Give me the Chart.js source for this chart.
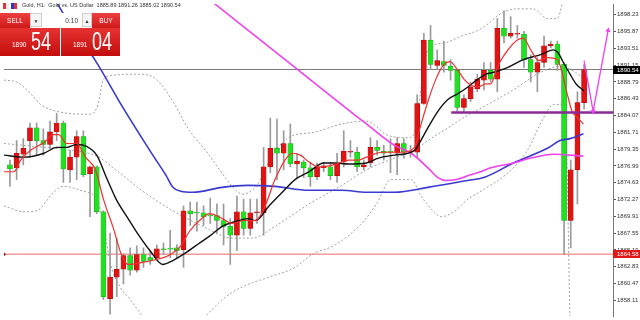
<!DOCTYPE html>
<html>
<head>
<meta charset="utf-8">
<script src="https://cdn.jsdelivr.net/npm/chart.js@4.4.1/dist/chart.umd.min.js"></script>
<style>
  html, body { margin:0; padding:0; background:#fff; }
  #wrap { position:relative; width:640px; height:320px; overflow:hidden; font-family: Arial, "Liberation Sans", sans-serif; }
  #c { position:absolute; left:0; top:0; }
  .hdr { position:absolute; left:22px; top:2px; font-size:5.5px; color:#333; white-space:nowrap; }
  .ico { position:absolute; top:3px; width:6px; height:6px; }
  .btn { position:absolute; top:13px; height:15px; line-height:15px; color:#fff; font-size:6.5px; text-align:center;
         background:linear-gradient(#ec4040, #d01a1a); }
  .box { position:absolute; top:13px; height:14px; line-height:14px; background:#f4f4f4; border:1px solid #cfcfcf; box-sizing:border-box;
         font-size:5px; text-align:center; color:#333; }
  .qty { position:absolute; top:13px; left:42px; width:40px; height:15px; line-height:15px; background:#fff; color:#333; font-size:6.5px;
         text-align:right; padding-right:4px; box-sizing:border-box; }
  .px { position:absolute; top:28px; height:28px; color:#fff; background:linear-gradient(#e63232, #c40e0e); }
  .px .s { position:absolute; left:12px; top:13px; font-size:6.5px; }
  .px .b { position:absolute; left:31px; top:1px; font-size:25px; line-height:25px; transform:scaleX(0.72); transform-origin:left top; }
</style>
</head>
<body>
<div id="wrap">
  <canvas id="c" width="640" height="320"></canvas>

  <div class="ico" style="left:3px; background:linear-gradient(90deg,#d33 50%,#eee 50%);"></div>
  <div class="ico" style="left:11px; background:linear-gradient(90deg,#33c 50%,#d33 50%);"></div>
  <div class="hdr">Gold, H1:&nbsp; Gold vs. US Dollar&nbsp; 1885.89 1891.26 1885.02 1890.54</div>

  <div class="btn" style="left:0; width:30px;">SELL</div>
  <div class="box" style="left:30px; width:12px;">&#9660;</div>
  <div class="qty">0.10</div>
  <div class="box" style="left:82px; width:10px;">&#9650;</div>
  <div class="btn" style="left:92px; width:28px;">BUY</div>
  <div class="px" style="left:0; width:60px;"><span class="s">1890</span><span class="b">54</span></div>
  <div class="px" style="left:61px; width:59px;"><span class="s">1891</span><span class="b">04</span></div>
</div>

<script>
/********************
 * Gold H1 candles (prices)
 ********************/
const opens = [1877.14,1876.73,1878.64,1880.56,1882.34,1880.56,1880.01,1881.79,1883.03,1876.45,
  1878.23,1881.11,1875.90,1876.86,1870.56,1858.37,1861.38,1862.48,1864.39,1862.34,
  1864.53,1864.12,1864.12,1865.35,1865.35,1865.49,1865.22,1870.70,1870.42,1870.42,
  1870.01,1870.01,1869.33,1868.51,1867.27,1870.56,1868.23,1870.42,1870.42,1876.86,
  1879.47,1878.78,1880.15,1877.27,1877.55,1876.73,1875.49,1876.73,1876.86,1875.63,
  1877.55,1878.92,1878.92,1876.86,1877.41,1879.60,1879.05,1878.92,1878.78,1880.15,
  1878.92,1878.92,1885.77,1894.67,1891.11,1891.66,1890.97,1890.42,1885.22,1886.45,
  1887.82,1889.05,1890.42,1889.19,1896.32,1895.22,1895.49,1895.49,1891.93,1890.15,
  1891.52,1893.85,1894.12,1891.25,1869.33,1876.45,1885.89];
const highs = [1877.82,1880.56,1880.83,1883.03,1883.03,1882.21,1883.30,1884.40,1883.30,1879.19,
  1881.93,1881.93,1876.99,1877.00,1870.70,1867.55,1866.86,1864.67,1865.49,1865.77,
  1865.49,1865.08,1865.90,1866.18,1867.96,1865.90,1871.38,1871.93,1871.93,1871.38,
  1872.48,1871.66,1871.66,1869.60,1872.75,1872.34,1872.34,1872.34,1879.60,1883.71,
  1883.58,1881.93,1882.89,1878.78,1877.82,1877.55,1877.41,1877.55,1877.55,1878.78,
  1881.93,1880.56,1879.60,1877.82,1880.97,1880.56,1879.88,1880.83,1880.97,1880.83,
  1879.88,1887.00,1895.63,1896.73,1893.30,1894.53,1891.93,1890.56,1887.00,1888.78,
  1889.88,1891.52,1891.52,1897.69,1898.78,1897.96,1896.73,1895.90,1892.62,1892.21,
  1895.22,1894.53,1894.53,1891.52,1877.82,1887.41,1891.26];
const lows = [1874.12,1875.08,1877.14,1878.23,1878.51,1878.51,1879.47,1880.56,1874.67,1874.67,
  1875.08,1875.49,1869.87,1870.29,1858.23,1856.17,1858.64,1860.42,1861.66,1862.07,
  1862.75,1863.16,1863.71,1864.53,1864.12,1864.12,1862.75,1868.64,1867.82,1868.64,
  1868.92,1867.55,1865.90,1863.16,1865.08,1867.27,1867.27,1868.92,1867.27,1876.04,
  1875.08,1876.45,1876.86,1875.36,1875.36,1874.12,1875.08,1876.18,1875.08,1874.67,
  1876.86,1878.23,1876.18,1876.45,1876.86,1878.51,1877.82,1876.04,1875.77,1878.10,
  1878.23,1878.23,1885.63,1890.56,1890.56,1890.15,1889.05,1884.67,1884.67,1886.04,
  1887.41,1887.68,1888.78,1887.41,1894.26,1894.95,1894.95,1890.84,1888.78,1887.41,
  1890.84,1893.58,1890.42,1864.53,1865.49,1871.66,1885.02];
const closes = [1876.59,1878.78,1879.47,1882.34,1880.56,1880.01,1881.79,1883.03,1876.59,1878.23,
  1881.11,1875.77,1876.86,1870.56,1858.64,1861.38,1862.48,1864.39,1862.34,1864.53,
  1863.58,1863.71,1865.35,1865.22,1865.31,1865.08,1870.70,1870.29,1870.38,1869.87,
  1869.98,1869.33,1868.51,1867.27,1870.56,1868.23,1870.42,1870.45,1876.86,1879.47,
  1878.78,1880.15,1877.27,1877.68,1876.73,1875.49,1876.86,1877.00,1875.63,1877.41,
  1879.05,1878.95,1876.86,1877.14,1879.60,1879.19,1878.78,1878.90,1880.15,1878.92,
  1878.95,1885.77,1894.67,1891.25,1891.79,1891.11,1890.42,1885.22,1886.45,1888.09,
  1889.19,1890.42,1889.19,1896.32,1895.22,1895.63,1895.52,1891.93,1890.15,1891.52,
  1893.85,1894.12,1891.25,1869.33,1876.45,1885.90,1890.54];

// price axis labels
const yTicks = [1858.11,1860.47,1862.83,1865.19,1867.55,1869.91,1872.27,1874.63,1876.99,
  1879.35,1881.71,1884.07,1886.43,1888.79,1891.15,1893.51,1895.87,1898.23];

const bidPrice = 1890.54;
const redLevel = 1864.58;
const purpleLevel = 1884.5;
const purpleFrom = 66.1;   // candle index where the drawn level starts

// indicator lines, [candle index, price]
const redMA = [[-0.9,1876.18],[0.6,1876.18],[1.6,1877.82],[3.1,1879.19],[5.1,1880.29],[6.5,1881.38],[7.3,1881.38],
  [8.5,1880.15],[10.0,1880.15],[11.3,1878.23],[12.8,1876.45],[14.0,1872.34],[15.5,1868.23],[16.7,1864.53],
  [17.7,1863.16],[19.9,1863.44],[21.9,1863.85],[24.0,1864.53],[25.6,1865.77],[26.9,1867.82],[28.4,1869.33],
  [29.9,1870.29],[31.8,1869.60],[33.3,1868.92],[35.1,1869.33],[36.8,1869.33],[38.2,1871.38],[39.7,1875.08],
  [41.2,1877.82],[42.3,1878.78],[43.5,1878.51],[44.8,1877.55],[46.3,1876.86],[47.8,1877.00],[49.3,1877.41],
  [50.7,1877.82],[52.2,1877.82],[53.4,1878.23],[55.7,1878.92],[58.6,1878.92],[60.6,1879.60],[61.3,1881.93],
  [62.6,1886.04],[63.8,1889.19],[65.0,1891.25],[65.9,1891.66],[67.1,1890.42],[68.0,1889.19],[69.0,1888.37],
  [70.1,1888.09],[71.3,1888.51],[72.0,1888.51],[73.1,1891.11],[74.6,1893.30],[76.0,1894.67],[76.9,1894.95],
  [78.0,1893.30],[79.2,1891.79],[80.5,1892.21],[82.0,1891.93],[82.7,1890.15],[83.5,1887.00],[84.2,1884.67],
  [84.8,1883.99],[85.9,1882.89]];
const blackMA = [[-0.9,1878.51],[2.1,1878.23],[5.1,1878.78],[7.0,1879.60],[8.5,1879.60],[10.0,1880.01],[11.5,1879.74],
  [13.0,1878.51],[14.4,1875.49],[15.9,1872.34],[17.7,1869.60],[18.9,1867.82],[21.0,1865.08],[22.9,1863.16],
  [24.4,1863.71],[25.9,1864.53],[27.8,1865.77],[29.9,1867.14],[31.8,1868.51],[33.8,1869.19],[35.6,1869.60],
  [36.8,1869.33],[38.8,1871.38],[40.8,1873.30],[42.7,1875.08],[44.8,1876.18],[47.0,1877.41],[48.7,1877.41],
  [50.7,1877.27],[53.4,1877.41],[55.2,1878.10],[57.6,1878.51],[60.6,1879.19],[61.3,1880.15],[62.6,1882.34],
  [64.1,1884.67],[65.6,1886.32],[67.1,1887.14],[68.6,1888.09],[70.1,1889.19],[71.3,1889.88],[72.5,1890.15],
  [74.6,1890.84],[76.9,1891.93],[79.5,1892.62],[81.4,1893.30],[82.1,1892.89],[82.9,1891.52],[83.9,1889.88],
  [84.8,1888.51],[86.0,1887.55]];
const blueMA = [[6.5,1900.84],[8.0,1898.37],[12.8,1891.79],[17.0,1885.08],[21.4,1878.51],[23.4,1875.63],[24.4,1874.00],
  [25.6,1873.44],[27.4,1873.30],[31.8,1873.99],[35.6,1874.26],[39.7,1874.12],[44.8,1873.58],[49.7,1873.58],
  [53.4,1873.30],[57.6,1873.30],[62.6,1873.99],[67.6,1874.81],[71.3,1875.49],[75.4,1877.41],[80.5,1879.47],
  [82.4,1880.56],[83.9,1880.83],[85.9,1881.52]];
const magentaMA = [[28.9,1901.11],[30.7,1899.74],[38.1,1894.26],[53.4,1882.89],[57.6,1879.88],[60.1,1878.78],
  [62.6,1876.73],[64.1,1875.36],[65.3,1874.95],[66.8,1875.08],[69.0,1875.77],[70.5,1876.18],[72.0,1876.73],
  [75.4,1877.41],[78.0,1878.10],[81.4,1878.64],[85.9,1878.37]];
const bbUpper = [[-0.9,1889.05],[1.0,1888.78],[3.1,1887.14],[4.6,1885.63],[7.0,1884.67],[12.05,1884.26],[13.2,1885.63],
  [14.0,1889.19],[15.5,1889.74],[17.7,1889.88],[19.5,1889.88],[21.9,1889.19],[24.4,1886.04],[26.9,1881.93],
  [29.3,1879.19],[31.4,1876.45],[33.3,1874.12],[34.8,1873.03],[37.1,1874.40],[39.3,1878.51],[42.3,1881.25],
  [45.2,1881.66],[49.7,1882.89],[53.4,1883.30],[56.7,1881.25],[59.7,1880.97],[60.6,1881.66],[61.3,1886.04],
  [62.6,1893.30],[65.0,1894.26],[67.6,1895.22],[70.1,1896.04],[71.3,1896.73],[73.5,1898.37],[75.7,1899.06],
  [78.4,1899.06],[80.5,1897.69],[82.0,1897.69],[82.7,1899.74],[83.6,1903.85]];
const bbMiddle = [[-0.9,1880.15],[3.6,1879.74],[8.0,1879.33],[13.0,1878.37],[15.5,1876.73],[17.7,1875.08],[19.9,1873.44],
  [24.4,1870.70],[28.9,1868.51],[33.3,1866.86],[36.3,1866.86],[39.7,1868.51],[44.8,1871.66],[49.7,1874.26],
  [53.4,1876.45],[57.6,1878.10],[60.6,1879.19],[62.6,1880.56],[65.6,1882.34],[67.6,1883.58],[71.3,1885.49],
  [75.4,1887.68],[79.5,1890.15],[82.4,1890.97],[84.7,1890.15],[86.2,1889.05]];
const bbLower = [[-0.9,1871.38],[2.1,1870.56],[4.0,1870.70],[6.55,1873.30],[8.0,1874.12],[11.0,1873.44],[13.0,1872.34],
  [14.0,1868.92],[15.0,1863.44],[16.5,1860.01],[18.0,1858.23],[19.9,1855.90],[21.4,1854.53],[27.4,1854.53],
  [29.6,1856.18],[31.8,1858.23],[34.8,1860.01],[38.8,1861.38],[42.7,1862.75],[45.2,1864.53],[48.7,1865.90],
  [52.7,1868.92],[54.9,1871.66],[57.1,1875.08],[60.1,1875.08],[61.6,1872.75],[63.5,1870.56],[64.6,1869.87],
  [66.5,1870.56],[68.6,1872.34],[71.0,1873.71],[74.6,1876.04],[77.5,1879.19],[79.9,1883.71],[81.4,1885.63],
  [82.4,1885.63],[83.2,1883.99],[83.9,1854.53]];

// hand-drawn zigzag arrow
const arrowPath = [[86.0,1891.80],[87.35,1884.67],[89.6,1896.04]];

/********************
 * Chart
 ********************/
const X_MIN = -0.89, X_MAX = 90.33;
const Y_MIN = 1855.92, Y_MAX = 1899.74;

const RED = "#e01414", GREEN = "#22e022", WICK = "#9a9a9a";

const pts = arr => arr.map(p => ({ x: p[0], y: p[1] }));
const isUp = i => closes[i] >= opens[i];

function lineSet(data, color, width, order, extra){
  return Object.assign({
    type: "line",
    data: pts(data),
    borderColor: color,
    borderWidth: width,
    pointRadius: 0,
    fill: false,
    cubicInterpolationMode: "monotone",
    order
  }, extra || {});
}

const priceTags = {
  id: "priceTags",
  afterDraw(chart){
    const { ctx, chartArea, scales } = chart;
    const tag = (val, bg) => {
      const py = Math.round(scales.y.getPixelForValue(val));
      ctx.save();
      ctx.fillStyle = bg;
      ctx.fillRect(chartArea.right, py - 4, chart.width - chartArea.right, 8);
      ctx.fillStyle = "#fff";
      ctx.font = "6px Arial";
      ctx.textBaseline = "middle";
      ctx.fillText(val.toFixed(2), chartArea.right + 4, py + 0.5);
      ctx.restore();
    };
    tag(bidPrice, "#000");
    tag(redLevel, "#e01818");
  }
};

const ctx = document.getElementById("c").getContext("2d");
new Chart(ctx, {
  type: "bar",
  data: {
    datasets: [
      lineSet([[X_MIN, bidPrice], [X_MAX, bidPrice]], "#7a7a7a", 1, 100),
      lineSet([[X_MIN, redLevel], [X_MAX, redLevel]], "#f49a9a", 1.5, 99,
        { pointRadius: [1.5, 0], pointBackgroundColor: "#a00", pointBorderWidth: 0 }),
      lineSet(bbUpper, "#a0a0a0", 1, 90, { borderDash: [2, 2] }),
      lineSet(bbMiddle, "#a0a0a0", 1, 90, { borderDash: [2, 2] }),
      lineSet(bbLower, "#a0a0a0", 1, 90, { borderDash: [2, 2] }),
      {
        label: "wicks",
        data: opens.map((_, i) => ({ x: i, y: [lows[i], highs[i]] })),
        backgroundColor: WICK,
        barThickness: 1,
        grouped: false,
        order: 80
      },
      {
        label: "bodies",
        data: opens.map((_, i) => ({ x: i, y: [opens[i], closes[i]] })),
        backgroundColor: c => isUp(c.dataIndex) ? RED : GREEN,
        borderColor: c => isUp(c.dataIndex) ? "#a80000" : "#16a016",
        borderWidth: 0.5,
        borderSkipped: false,
        barThickness: 5,
        minBarLength: 1,
        grouped: false,
        order: 70
      },
      lineSet(blueMA, "#3a3ad0", 1.6, 60),
      lineSet(magentaMA, "#f040f0", 1.6, 59),
      lineSet(blackMA, "#111", 1.4, 50),
      lineSet(redMA, "#f03030", 1.2, 40),
      lineSet([[purpleFrom, purpleLevel], [X_MAX, purpleLevel]], "#8a2a96", 2.5, 30),
      lineSet(arrowPath, "#f040f0", 1.3, 20, {
        cubicInterpolationMode: "default",
        tension: 0,
        pointStyle: "triangle",
        pointRadius: [0, 3, 3],
        rotation: [0, 170, 10],
        pointBackgroundColor: "#f040f0",
        pointBorderWidth: 0
      })
    ]
  },
  options: {
    responsive: false,
    animation: false,
    layout: { padding: 0 },
    plugins: { legend: { display: false }, tooltip: { enabled: false } },
    scales: {
      x: { type: "linear", min: X_MIN, max: X_MAX, display: false, offset: false },
      y: {
        position: "right",
        min: Y_MIN,
        max: Y_MAX,
        afterBuildTicks: s => { s.ticks = yTicks.map(v => ({ value: v })); },
        afterFit: s => { s.width = 27; s.paddingTop = 0; s.paddingBottom = 0; },
        ticks: {
          autoSkip: false,
          padding: 1,
          color: "#333",
          font: { size: 6, family: "Arial" },
          callback: v => Number(v).toFixed(2)
        },
        grid: { drawOnChartArea: false, drawTicks: true, tickLength: 3, color: "#555" },
        border: { display: true, color: "#777", width: 1 }
      }
    }
  },
  plugins: [priceTags]
});
</script>
</body>
</html>
